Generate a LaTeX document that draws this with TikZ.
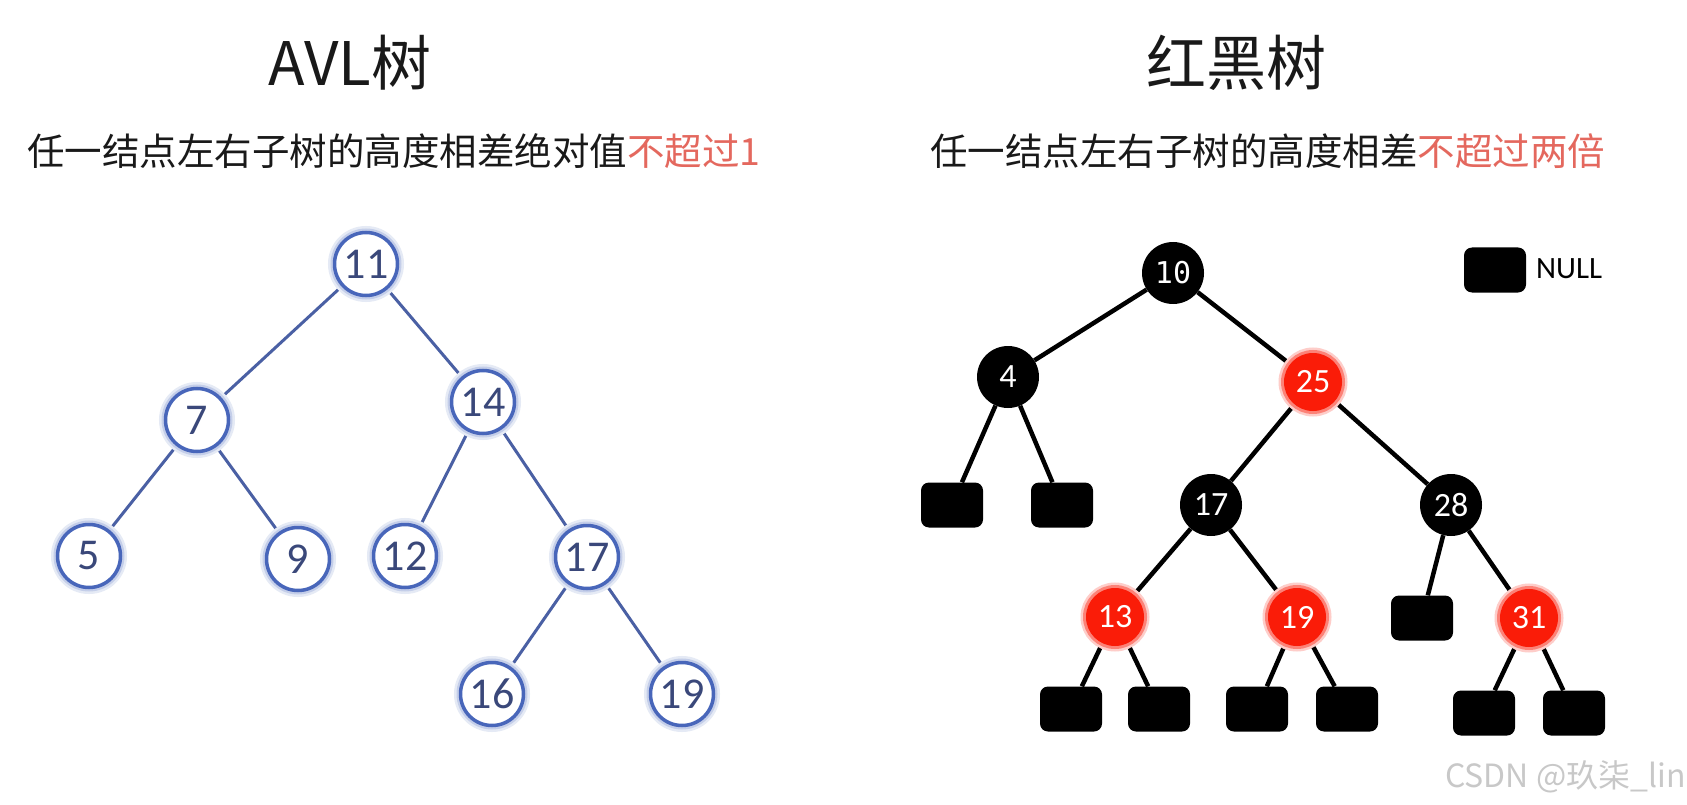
\documentclass[tikz,border=0pt]{standalone}
\usepackage{fontspec}
\newfontfamily\cjkfont{Noto Sans CJK SC}
\newfontfamily\calfont{Carlito}
\newfontfamily\monofont{DejaVu Sans Mono}
\usetikzlibrary{backgrounds}
\definecolor{avlblue}{RGB}{72,102,186}
\definecolor{avltext}{RGB}{58,72,122}
\definecolor{avledge}{RGB}{74,96,164}
\definecolor{rbred}{RGB}{250,28,8}
\definecolor{hilite}{RGB}{228,104,94}
\definecolor{wmgray}{RGB}{200,200,200}
\definecolor{txt}{RGB}{25,25,25}
\begin{document}
\begin{tikzpicture}[x=1pt,y=-1pt,
  avl/.style={circle, draw=avlblue, line width=3.5pt, minimum size=63pt, inner sep=0pt,
    fill=white, text=avltext, font=\calfont\fontsize{44}{44}\selectfont,
    preaction={draw=avlblue!14, line width=13pt},
    preaction={draw=avlblue!32, line width=8pt}},
  avledgestyle/.style={draw=avledge, line width=3pt, shorten <=4pt, shorten >=4pt},
  rbb/.style={circle, fill=black, minimum size=62pt, inner sep=0pt, text=white,
    font=\calfont\fontsize{34}{34}\selectfont},
  rbr/.style={circle, fill=rbred, minimum size=58pt, inner sep=0pt, text=white,
    font=\calfont\fontsize{34}{34}\selectfont,
    preaction={draw=rbred!22, line width=11pt},
    preaction={draw=rbred!55, line width=6pt}},
  nullbox/.style={rectangle, rounded corners=8pt, fill=black, minimum width=62pt,
    minimum height=45pt, inner sep=0pt},
  rbedge/.style={draw=black, line width=4.5pt},
  title/.style={anchor=base, inner sep=0pt, text=txt, font=\cjkfont\fontsize{60}{60}\selectfont},
  subtitle/.style={anchor=base west, inner sep=0pt, text=txt, font=\cjkfont\fontsize{37.5}{37.5}\selectfont}
]
\useasboundingbox (0,0) rectangle (1687,805);

% titles
\node[title] (tavl) at (350,86) {AVL树};
\node[title] (trb) at (1236,86) {红黑树};
\node[subtitle] (savl) at (27,166) {任一结点左右子树的高度相差绝对值\textcolor{hilite}{不超过1}};
\node[subtitle] (srb) at (930,166) {任一结点左右子树的高度相差\textcolor{hilite}{不超过两倍}};

% AVL tree
\node[avl] (a11) at (366,264) {11};
\node[avl] (a7)  at (197,420) {7};
\node[avl] (a14) at (483,402) {14};
\node[avl] (a5)  at (89,556) {5};
\node[avl] (a9)  at (298,559) {9};
\node[avl] (a12) at (405,556) {12};
\node[avl] (a17) at (587,557) {17};
\node[avl] (a16) at (492,694) {16};
\node[avl] (a19) at (682,694) {19};

% Red-black tree
\node[rbb] (r10) at (1173,273) {\monofont\fontsize{30}{30}\selectfont 10};
\node[rbb] (r4)  at (1008,377) {4};
\node[rbr] (r25) at (1313,382) {25};
\node[rbb] (r17) at (1211,505) {17};
\node[rbb] (r28) at (1451,505) {28};
\node[rbr] (r13) at (1115,617) {13};
\node[rbr] (r19) at (1297,617) {19};
\node[rbr] (r31) at (1529,618) {31};
\node[nullbox] (n4a) at (952,505) {};
\node[nullbox] (n4b) at (1062,505) {};
\node[nullbox] (n28a) at (1422,618) {};
\node[nullbox] (n13a) at (1071,709) {};
\node[nullbox] (n13b) at (1159,709) {};
\node[nullbox] (n19a) at (1257,709) {};
\node[nullbox] (n19b) at (1347,709) {};
\node[nullbox] (n31a) at (1484,713) {};
\node[nullbox] (n31b) at (1574,713) {};

% legend
\node[nullbox] (legbox) at (1495,270) {};
\node[anchor=base west, inner sep=0pt, font=\calfont\fontsize{31}{31}\selectfont] (legtxt) at (1536,279) {NULL};

% watermark
\node[anchor=base east, inner sep=0pt, text=wmgray, font=\cjkfont\fontsize{32}{32}\selectfont] (wm) at (1686,787) {CSDN @玖柒\_lin};

\begin{scope}[on background layer]
\fill[white] (0,0) rectangle (1687,805);
\draw[avledgestyle] (a11) -- (a7);
\draw[avledgestyle] (a11) -- (a14);
\draw[avledgestyle] (a7) -- (a5);
\draw[avledgestyle] (a7) -- (a9);
\draw[avledgestyle] (a14) -- (a12);
\draw[avledgestyle] (a14) -- (a17);
\draw[avledgestyle] (a17) -- (a16);
\draw[avledgestyle] (a17) -- (a19);

\draw[rbedge] (r10) -- (r4);
\draw[rbedge] (r10) -- (r25);
\draw[rbedge] (r4) -- (n4a);
\draw[rbedge] (r4) -- (n4b);
\draw[rbedge] (r25) -- (r17);
\draw[rbedge] (r25) -- (r28);
\draw[rbedge] (r17) -- (r13);
\draw[rbedge] (r17) -- (r19);
\draw[rbedge] (r28) -- (n28a);
\draw[rbedge] (r28) -- (r31);
\draw[rbedge] (r13) -- (n13a);
\draw[rbedge] (r13) -- (n13b);
\draw[rbedge] (r19) -- (n19a);
\draw[rbedge] (r19) -- (n19b);
\draw[rbedge] (r31) -- (n31a);
\draw[rbedge] (r31) -- (n31b);
\end{scope}
\end{tikzpicture}
\end{document}
